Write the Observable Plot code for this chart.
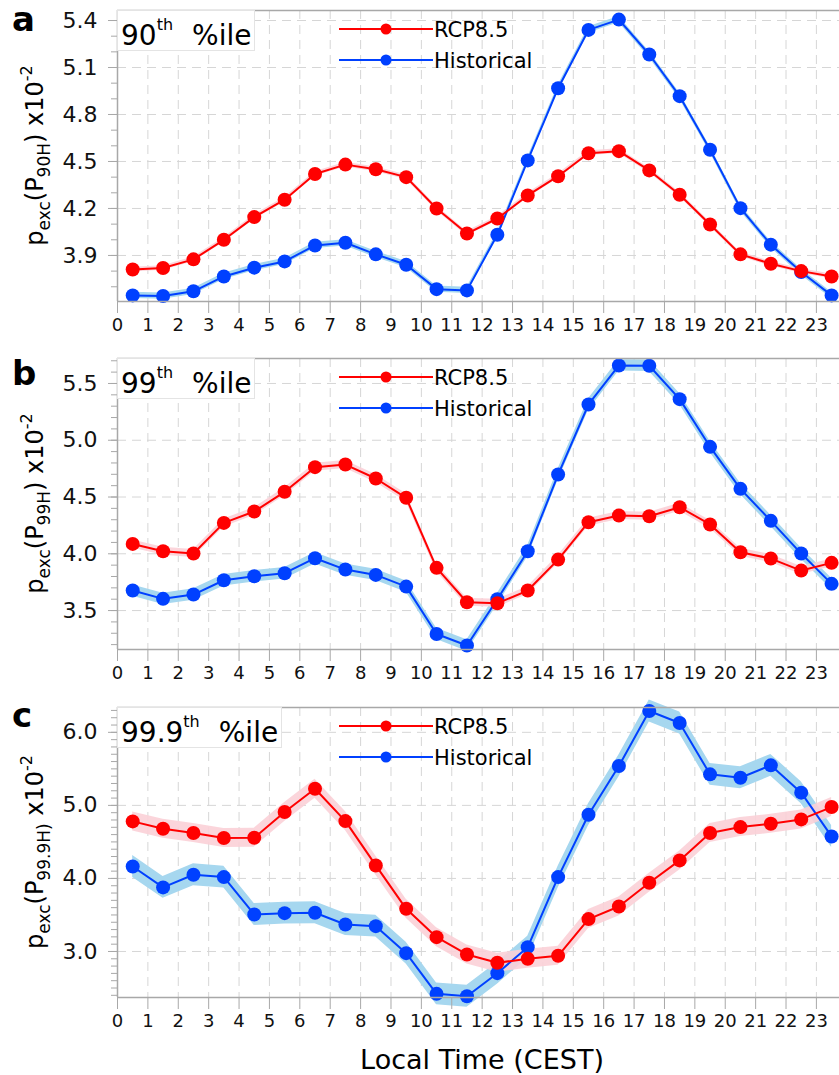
<!DOCTYPE html>
<html><head><meta charset="utf-8">
<script src="https://cdn.jsdelivr.net/npm/d3@7"></script>
<script src="https://cdn.jsdelivr.net/npm/@observablehq/plot@0.6"></script>
<style>
body{margin:0;background:#fff;}
#chart{position:relative;width:839px;height:1075px;overflow:hidden;font-family:"DejaVu Sans",sans-serif;background:#fff;}
#chart svg{position:absolute;left:0;overflow:visible;}
</style></head><body><div id="chart"></div>
<script>
// ---------- data ----------
const hours = [0.5,1.5,2.5,3.5,4.5,5.5,6.5,7.5,8.5,9.5,10.5,11.5,12.5,13.5,14.5,15.5,16.5,17.5,18.5,19.5,20.5,21.5,22.5,23.5];
const xTicks = [0,1,2,3,4,5,6,7,8,9,10,11,12,13,14,15,16,17,18,19,20,21,22,23];
const seriesNames = ["RCP8.5", "Historical"];

// panel a: 90th percentile
const rcpA  = [3.81,3.82,3.875,4.00,4.145,4.256,4.42,4.48,4.45,4.40,4.20,4.04,4.136,4.283,4.406,4.553,4.566,4.443,4.288,4.098,3.907,3.847,3.80,3.766];
const histA = [3.645,3.641,3.671,3.766,3.822,3.862,3.964,3.981,3.907,3.841,3.685,3.677,4.032,4.507,4.968,5.34,5.406,5.183,4.917,4.575,4.202,3.969,3.794,3.645];
// panel b: 99th percentile
const rcpB  = [4.087,4.023,4.002,4.272,4.372,4.546,4.763,4.786,4.663,4.493,3.876,3.573,3.564,3.676,3.949,4.278,4.337,4.331,4.41,4.258,4.014,3.958,3.852,3.92];
const histB = [3.676,3.603,3.641,3.767,3.802,3.829,3.961,3.861,3.814,3.711,3.294,3.192,3.60,4.023,4.698,5.315,5.659,5.656,5.362,4.942,4.572,4.29,4.002,3.735];
// panel c: 99.9th percentile
const rcpC  = [4.781,4.68,4.621,4.553,4.557,4.909,5.228,4.785,4.178,3.584,3.196,2.959,2.845,2.90,2.941,3.443,3.616,3.941,4.247,4.621,4.703,4.749,4.808,4.977];
const histC = [4.164,3.877,4.05,4.018,3.507,3.525,3.53,3.37,3.347,2.977,2.42,2.388,2.703,3.059,4.018,4.872,5.539,6.292,6.128,5.425,5.379,5.548,5.174,4.575];

// uncertainty band half-widths (rcp, hist)
const bandA = [0.015, 0.02];
const bandB = [0.035, 0.05];
const bandC = [0.13, 0.15];

// y axis ticks
const majorA = [3.9,4.2,4.5,4.8,5.1,5.4];
const majorB = [3.5,4.0,4.5,5.0,5.5];
const majorC = [3.0,4.0,5.0,6.0];
const minorA = [3.7,3.8,3.9,4.0,4.1,4.2,4.3,4.4,4.5,4.6,4.7,4.8,4.9,5.0,5.1,5.2,5.3,5.4];
const minorB = [3.2,3.3,3.4,3.5,3.6,3.7,3.8,3.9,4.0,4.1,4.2,4.3,4.4,4.5,4.6,4.7,4.8,4.9,5.0,5.1,5.2,5.3,5.4,5.5,5.6,5.7];
const minorC = [2.4,2.5,2.6,2.7,2.8,2.9,3.0,3.1,3.2,3.3,3.4,3.5,3.6,3.7,3.8,3.9,4.0,4.1,4.2,4.3,4.4,4.5,4.6,4.7,4.8,4.9,5.0,5.1,5.2,5.3,5.4,5.5,5.6,5.7,5.8,5.9,6.0,6.1,6.2,6.3];
const yDomainA = [3.606, 5.464];
const yDomainB = [3.157, 5.72];
const yDomainC = [2.37, 6.34];

const panelLetters = ["a","b","c"];
const pctLabels = ["90","99","99.9"];
const yLabelSubs = ["90H", "99H", "99.9H)"];
const xTitle = "Local Time (CEST)";

// ---------- style ----------
const RED = "#ff0000", BLUE = "#0040ff";
const RED_BAND = "#fbd0d7", BLUE_BAND = "#a6d7ef";
const GRID = "#d6d6d6", AXIS = "#a8a8a8";
const FONT = "DejaVu Sans";

const panels = [
  {rcp: rcpA, hist: histA, band: bandA, major: majorA, minor: minorA, yDomain: yDomainA, top: 0,   height: 348, mb: 47},
  {rcp: rcpB, hist: histB, band: bandB, major: majorB, minor: minorB, yDomain: yDomainB, top: 348, height: 349, mb: 48},
  {rcp: rcpC, hist: histC, band: bandC, major: majorC, minor: minorC, yDomain: yDomainC, top: 697, height: 378, mb: 78}
];

const container = document.getElementById("chart");
const MT = 10;

panels.forEach((p, k) => {
  const rows = hours.map((h, i) => ({h, rcp: p.rcp[i], hist: p.hist[i]}));
  const svg = Plot.plot({
    width: 839, height: p.height,
    marginLeft: 117, marginRight: 0, marginTop: MT, marginBottom: p.mb,
    style: {fontFamily: FONT, background: "transparent", overflow: "visible"},
    x: {domain: [0, 23.76]},
    y: {domain: p.yDomain},
    marks: [
      Plot.gridX({ticks: xTicks, stroke: GRID, strokeOpacity: 1, strokeDasharray: "9,6"}),
      Plot.gridY({ticks: p.major, stroke: GRID, strokeOpacity: 1, strokeDasharray: "9,6"}),
      Plot.areaY(rows, {x: "h", y1: d => d.hist - p.band[1], y2: d => d.hist + p.band[1], fill: BLUE_BAND}),
      Plot.areaY(rows, {x: "h", y1: d => d.rcp - p.band[0], y2: d => d.rcp + p.band[0], fill: RED_BAND, fillOpacity: 0.9}),
      Plot.line(rows, {x: "h", y: "hist", stroke: BLUE, strokeWidth: 2}),
      Plot.dot(rows, {x: "h", y: "hist", r: 7, fill: BLUE}),
      Plot.line(rows, {x: "h", y: "rcp", stroke: RED, strokeWidth: 2}),
      Plot.dot(rows, {x: "h", y: "rcp", r: 7, fill: RED}),
      Plot.ruleY([p.yDomain[0], p.yDomain[1]], {stroke: AXIS, strokeWidth: 1.5}),
      Plot.ruleX([0], {stroke: AXIS, strokeWidth: 1.5}),
      Plot.axisX({ticks: xTicks, tickSize: 12, tickPadding: 5, stroke: AXIS, fill: "#111", fontSize: 18, label: null, tickFormat: d => String(d)}),
      Plot.axisY({ticks: p.minor, tickSize: 6, stroke: AXIS, label: null, tickFormat: () => ""}),
      Plot.axisY({ticks: p.major, tickSize: 9, tickPadding: 11, stroke: AXIS, fill: "#111", fontSize: 22, label: null, tickFormat: d3.format(".1f")})
    ]
  });
  svg.style.top = p.top + "px";
  container.appendChild(svg);

  const s = d3.select(svg);
  const frameTop = MT, frameBottom = p.height - p.mb;

  // panel letter
  s.append("text").attr("x", 12).attr("y", [31, 37, 30][k]).attr("text-anchor", "start")
    .attr("font-family", FONT).attr("font-weight", "bold").attr("font-size", 34).attr("fill", "#000")
    .text(panelLetters[k]);

  // y-axis title with sub/superscripts
  const cy = (frameTop + frameBottom) / 2;
  const t = s.append("text").attr("transform", `translate(43,${cy}) rotate(-90)`)
    .attr("text-anchor", "middle").attr("font-family", FONT).attr("fill", "#000").attr("font-size", 24);
  t.append("tspan").text("p");
  t.append("tspan").attr("font-size", 17).attr("dy", 7).text("exc");
  t.append("tspan").attr("dy", -7).text("(P");
  t.append("tspan").attr("font-size", 17).attr("dy", 7).text(yLabelSubs[k]);
  t.append("tspan").attr("dy", -7).text(k === 2 ? " x10" : ") x10");
  t.append("tspan").attr("font-size", 16).attr("dy", -11).text("-2");

  // percentile box
  const g = s.append("g").attr("text-anchor", "start");
  const boxW = k === 2 ? 164 : 137;
  g.append("rect").attr("x", 117.5).attr("y", frameTop + 0.5).attr("width", boxW).attr("height", 40)
    .attr("fill", "#fff").attr("stroke", "#e4e4e4");
  const pt = g.append("text").attr("x", 121).attr("y", frameTop + 35).attr("text-anchor", "start")
    .attr("font-family", FONT).attr("fill", "#000").attr("font-size", 28);
  pt.append("tspan").text(pctLabels[k]);
  pt.append("tspan").attr("font-size", 16).attr("dy", -15).text("th");
  pt.append("tspan").attr("dy", 15).attr("dx", 19).text("%ile");

  // legend
  const legColors = [RED, BLUE];
  const legY = [frameTop + 19, frameTop + 50];
  seriesNames.forEach((name, j) => {
    g.append("line").attr("x1", 339).attr("x2", 433).attr("y1", legY[j]).attr("y2", legY[j])
      .attr("stroke", legColors[j]).attr("stroke-width", 2);
    g.append("circle").attr("cx", 386).attr("cy", legY[j]).attr("r", 5.5).attr("fill", legColors[j]);
    g.append("text").attr("x", 434).attr("y", legY[j] + 8).attr("text-anchor", "start")
      .attr("font-family", FONT).attr("font-size", 21).attr("fill", "#000").text(name);
  });

  if (k === 2) {
    s.append("text").attr("x", 482).attr("y", 372).attr("text-anchor", "middle")
      .attr("font-family", FONT).attr("font-size", 27).attr("fill", "#000").text(xTitle);
  }
});
</script>
</body></html>
